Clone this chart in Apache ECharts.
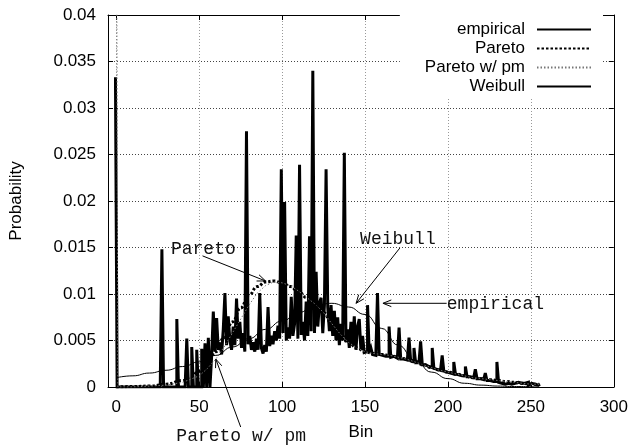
<!DOCTYPE html>
<html><head><meta charset="utf-8">
<script src="https://cdn.jsdelivr.net/npm/echarts@6/dist/echarts.min.js"></script>
<style>html,body{margin:0;padding:0;background:#fff}#c{width:631px;height:446px}</style>
</head><body><div id="c"></div>
<script>
// ---- data ----
const seriesNames = ['empirical', 'Pareto', 'Pareto w/ pm', 'Weibull'];
const xTicks = [0, 50, 100, 150, 200, 250, 300];

// empirical probability per bin, bins 0..255
const empirical = [
  .0333,0,0,0,0,0,0,0,0,0,
  0,0,0,0,0,0,0,0,0,0,
  0,0,0,0,0,0,0,0,.0148,0,
  0,0,0,0,0,0,0,.0073,0,0,
  0,0,0,.0052,0,0,.0043,0,0,.0040,
  0,0,.0041,0,.0047,0,.0053,0,.0034,.0081,
  .0038,.0074,.0040,.0048,.0035,.0062,.0101,.0045,.0076,.0050,
  .0040,.0065,.0045,.0095,.0052,.0070,.0042,.0058,.0038,.0275,
  .0046,.0055,.0040,.0048,.0038,.0052,.0040,.0101,.0042,.0036,
  .0045,.0038,.0086,.0044,.0055,.0046,.0060,.0050,.0066,.0052,
  .0234,.0058,.0199,.0050,.0064,.0052,.0097,.0055,.0068,.0163,
  .0052,.0239,.0056,.0070,.0050,.0092,.0055,.0162,.0060,.0340,
  .0058,.0124,.0065,.0090,.0096,.0058,.0088,.0234,.0086,.0060,
  .0088,.0055,.0082,.0050,.0075,.0045,.0068,.0050,.0252,.0048,
  .0062,.0042,.0070,.0045,.0076,.0040,.0065,.0073,.0040,.0055,
  .0037,.0038,.0088,.0037,.0042,.0035,.0034,.0036,.0101,.0035,
  .0034,.0034,.0033,.0034,.0033,.0065,.0032,.0033,.0032,.0031,
  .0031,.0064,.0030,.0030,.0029,.0029,.0028,.0053,.0028,.0027,
  .0042,.0026,.0026,.0025,.0049,.0024,.0024,.0023,.0022,.0022,
  .0021,.0042,.0020,.0019,.0019,.0018,.0018,.0034,.0017,.0016,
  .0016,.0015,.0015,.0014,.0027,.0014,.0013,.0013,.0012,.0012,
  .0012,.0022,.0011,.0011,.0010,.0010,.0010,.0019,.0009,.0009,
  .0008,.0008,.0008,.0015,.0007,.0007,.0007,.0006,.0006,.0006,
  .0027,.0005,.0004,.0006,.0003,.0005,.0004,.0006,.0003,.0005,
  .0004,.0003,.0005,.0003,.0004,.0002,.0004,.0003,.0005,.0002,
  .0004,.0002,.0003,.0004,.0002,.0003
];

const paretoBins = [0,10,20,30,40,45,50,55,60,65,70,75,80,85,90,95,100,105,110,115,120,125,130,135,140,145,150,155,160,165,170,175,180,185,190,195,200,205,210,215,220,225,230,235,240,245,250,255];
const paretoVals = [0,.00005,.0001,.0003,.0007,.0011,.0017,.0026,.0038,.0053,.0070,.0085,.0099,.0108,.0113,.0114,.0112,.0108,.0102,.0096,.0090,.0080,.0068,.0057,.0048,.0042,.0038,.0036,.0035,.0034,.0032,.0030,.0027,.0024,.0021,.0018,.0016,.0014,.0012,.0010,.0009,.0008,.0007,.0006,.0005,.0004,.0003,.0003];

const paretoPmBins = [0,1,10,20,30,40,50,55,60,65,70,75,80,85,90,95,100,105,110,115,120,125,130,135,140,145,150,155,160,165,170,175,180,185,190,195,200,205,210,215,220,225,230,235,240,245,250,255];
const paretoPmVals = [.06,0,0,.0001,.0002,.0005,.0012,.0020,.0030,.0043,.0058,.0073,.0088,.0101,.0109,.0113,.0112,.0109,.0103,.0096,.0089,.0080,.0068,.0057,.0048,.0042,.0038,.0036,.0035,.0034,.0032,.0030,.0027,.0024,.0021,.0018,.0016,.0014,.0012,.0010,.0009,.0008,.0007,.0006,.0005,.0004,.0003,.0003];

const weibullBins = [0,10,20,30,40,50,60,70,80,90,100,110,120,130,140,150,160,170,180,190,200,210,220,230,240,255];
const weibullVals = [.0010,.0012,.0015,.0018,.0022,.0027,.0034,.0043,.0052,.0062,.0071,.0080,.0088,.0090,.0086,.0078,.0063,.0045,.0029,.0016,.0009,.0004,.0002,.0001,.00005,0];

// annotations (text, text anchor, arrow tail, arrow head) in data units
const annoText = ['Pareto', 'Weibull', 'empirical', 'Pareto w/ pm'];
const annoAt   = [[52.5, 0.0148], [169.8, 0.0159], [228.6, 0.0089], [75.3, -0.0053]];
const annoFrom = [[52, 0.0141], [171, 0.01495], [199.2, 0.0090], [75, -0.0043]];
const annoTo   = [[90, 0.0114], [144.6, 0.0090], [160.8, 0.0090], [60, 0.0030]];

// ---- chart ----
const SANS = '"Liberation Sans", Arial, sans-serif';
const MONO = '"Liberation Mono", "DejaVu Sans Mono", monospace';
const chart = echarts.init(document.getElementById('c'));

const pairs = (xs, ys) => xs.map((x, i) => [x, ys[i]]);
// histogram steps: each bin is a flat segment centred on the bin
const histSteps = vals => {
  const out = [];
  vals.forEach((v, i) => { out.push([i - 0.5, v]); out.push([i + 0.5, v]); });
  return out;
};
const axisCommon = {
  axisLine: {show: true, onZero: false, lineStyle: {color: '#000', width: 1}},
  axisTick: {show: true, inside: true, length: 5, lineStyle: {color: '#000'}},
};

chart.setOption({
  animation: false,
  backgroundColor: '#fff',
  grid: {left: 107, right: 17, top: 15, bottom: 59, containLabel: false},
  legend: {
    orient: 'vertical', right: 28, top: 15, align: 'right',
    itemWidth: 54, itemHeight: 14, itemGap: 2,
    backgroundColor: '#fff', padding: [6, 11, 2, 25],
    itemStyle: {opacity: 0},
    textStyle: {fontFamily: SANS, fontSize: 17, color: '#000', padding: [0, 7, 0, 0]},
    data: seriesNames
  },
  xAxis: [{
    type: 'value', min: -5, max: 300, position: 'bottom',
    ...axisCommon,
    axisTick: {show: true, inside: true, length: 5, lineStyle: {color: '#000'}, customValues: xTicks},
    axisLabel: {customValues: xTicks, fontFamily: SANS, fontSize: 17, color: '#000', margin: 12},
    splitLine: {show: true, lineStyle: {color: '#999', type: [1, 2], width: 1}},
    name: 'Bin', nameLocation: 'middle', nameGap: 37,
    nameTextStyle: {fontFamily: SANS, fontSize: 17, color: '#000'}
  }, {
    type: 'value', min: -5, max: 300, position: 'top',
    ...axisCommon,
    axisTick: {show: true, inside: true, length: 5, lineStyle: {color: '#000'}, customValues: xTicks},
    axisLabel: {show: false},
    splitLine: {show: false}
  }],
  yAxis: [{
    type: 'value', min: 0, max: 0.04, interval: 0.005, position: 'left',
    ...axisCommon,
    axisLabel: {fontFamily: SANS, fontSize: 17, color: '#000', margin: 12},
    splitLine: {show: true, lineStyle: {color: '#444', type: [1, 2], width: 1}},
    name: 'Probability', nameLocation: 'middle', nameGap: 83, nameRotate: 90,
    nameTextStyle: {fontFamily: SANS, fontSize: 17, color: '#000'}
  }, {
    type: 'value', min: 0, max: 0.04, interval: 0.005, position: 'right',
    ...axisCommon,
    axisLabel: {show: false},
    splitLine: {show: false}
  }],
  series: [{
    name: 'empirical', type: 'line', symbol: 'none', sampling: null,
    data: histSteps(empirical),
    lineStyle: {color: '#000', width: 3, join: 'miter', miterLimit: 4}, itemStyle: {color: '#000'}, z: 2
  }, {
    name: 'Pareto', type: 'line', symbol: 'none', smooth: true, smoothMonotone: 'x',
    data: pairs(paretoBins, paretoVals),
    lineStyle: {color: '#000', width: 3, type: [2.5, 2]}, itemStyle: {color: '#000'}, z: 3
  }, {
    name: 'Pareto w/ pm', type: 'line', symbol: 'none', smooth: false,
    data: pairs(paretoPmBins, paretoPmVals),
    lineStyle: {color: '#777', width: 1, type: [1.5, 2]}, itemStyle: {color: '#777'}, z: 4
  }, {
    name: 'Weibull', type: 'line', symbol: 'none', smooth: true, smoothMonotone: 'x',
    data: pairs(weibullBins, weibullVals),
    lineStyle: {color: '#000', width: 1}, itemStyle: {color: '#000'}, z: 5
  }]
});

// annotations positioned through the chart's own scales
const px = p => chart.convertToPixel({xAxisIndex: 0, yAxisIndex: 0}, p);
const graphics = [];
annoText.forEach((t, i) => {
  const c = px(annoAt[i]);
  graphics.push({
    type: 'text', x: c[0], y: c[1], z: 100, silent: true,
    style: {text: t, font: '18px ' + MONO, fill: '#111',
            align: 'center', verticalAlign: 'middle', textAlign: 'center', textVerticalAlign: 'middle'}
  });
  const a = px(annoFrom[i]), b = px(annoTo[i]);
  const ang = Math.atan2(a[1] - b[1], a[0] - b[0]);
  const L = 9, w = 0.38;
  const h1 = [b[0] + L * Math.cos(ang + w), b[1] + L * Math.sin(ang + w)];
  const h2 = [b[0] + L * Math.cos(ang - w), b[1] + L * Math.sin(ang - w)];
  graphics.push({type: 'polyline', z: 100, silent: true, shape: {points: [a, b]}, style: {stroke: '#000', lineWidth: 1, fill: null}});
  graphics.push({type: 'polyline', z: 100, silent: true, shape: {points: [h1, b, h2]}, style: {stroke: '#000', lineWidth: 1, fill: null}});
});
chart.setOption({graphic: graphics});
</script></body></html>
